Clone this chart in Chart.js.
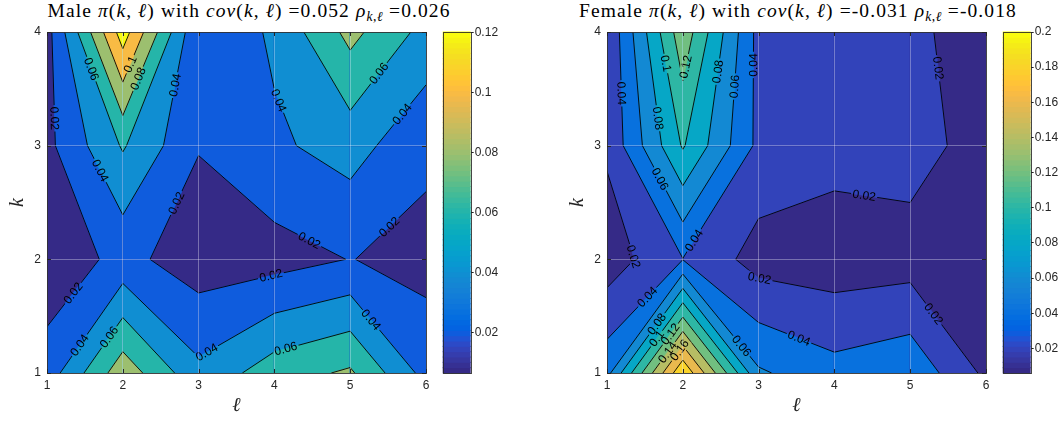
<!DOCTYPE html>
<html>
<head>
<meta charset="utf-8">
<script src="https://cdn.jsdelivr.net/npm/chart.js@4.4.0/dist/chart.umd.min.js"></script>
<style>
  body { margin: 0; background: #fff; width: 1061px; height: 421px; overflow: hidden; position: relative; }
  canvas { position: absolute; top: 0; }
  .ttl { position: absolute; top: 0; font-family: 'Liberation Serif', 'DejaVu Serif', serif; font-size: 19.5px;
         letter-spacing: 1.1px; color: #000; white-space: nowrap; transform: translateX(-50%); }
  .ttl sub { font-size: 70%; vertical-align: -0.3em; line-height: 0; letter-spacing: 0.5px; }
</style>
</head>
<body>
<div class="ttl" style="left:249px">Male <i>π</i>(<i>k</i>, <i>ℓ</i>) with <i>cov</i>(<i>k</i>, <i>ℓ</i>) =0.052 <i>ρ</i><sub><i>k</i>,<i>ℓ</i></sub> =0.026</div>
<div class="ttl" style="left:798px">Female <i>π</i>(<i>k</i>, <i>ℓ</i>) with <i>cov</i>(<i>k</i>, <i>ℓ</i>) =-0.031 <i>ρ</i><sub><i>k</i>,<i>ℓ</i></sub> =-0.018</div>
<canvas id="male" width="440" height="421" style="left:0"></canvas>
<canvas id="maleBar" width="100" height="421" style="left:436px"></canvas>
<canvas id="female" width="440" height="421" style="left:560px"></canvas>
<canvas id="femaleBar" width="65" height="421" style="left:996px"></canvas>
<script>
'use strict';

const ell = [1, 2, 3, 4, 5, 6];
const kVals = [1, 2, 3, 4];

// pi(k, l), one array per k, values along l = 1..6
const maleK1 = [0.029, 0.0925, 0.045, 0.071, 0.083, 0.033];
const maleK2 = [0.0069, 0.0259, 0.0095, 0.012, 0.0205, 0.0134];
const maleK3 = [0.0148, 0.062, 0.021, 0.0366, 0.0483, 0.0245];
const maleK4 = [0.0125, 0.13, 0.021, 0.0435, 0.086, 0.0535];

const femaleK1 = [0.053, 0.198, 0.0627, 0.047, 0.055, 0.0158];
const femaleK2 = [0.009, 0.0395, 0.0116, 0.0088, 0.011, 0.007];
const femaleK3 = [0.0232, 0.102, 0.035, 0.0274, 0.029, 0.0106];
const femaleK4 = [0.0218, 0.1335, 0.0334, 0.028, 0.025, 0.009];

const maleLevels = [0.02, 0.04, 0.06, 0.08, 0.1, 0.12];
const femaleLevels = [0.02, 0.04, 0.06, 0.08, 0.1, 0.12, 0.14, 0.16, 0.18, 0.2];

const maleColorTicks = [0.02, 0.04, 0.06, 0.08, 0.1, 0.12];
const femaleColorTicks = [0.02, 0.04, 0.06, 0.08, 0.1, 0.12, 0.14, 0.16, 0.18, 0.2];
const maleCLim = [0.0066, 0.1203];
const femaleCLim = [0.006, 0.2];

// where the inline contour labels sit: [level, l, k]
const maleLabelSpots = [
  [0.06, 1.57, 3.67], [0.1, 2.12, 3.71], [0.08, 2.2, 3.59], [0.04, 2.71, 3.53],
  [0.04, 4.03, 3.39], [0.06, 5.37, 3.64], [0.04, 5.7, 3.27], [0.02, 1.08, 3.24],
  [0.04, 1.7, 2.78], [0.02, 2.69, 2.5], [0.02, 4.45, 2.15], [0.02, 5.55, 2.26],
  [0.02, 3.96, 1.84], [0.02, 1.35, 1.7], [0.04, 1.44, 1.24], [0.06, 1.81, 1.32],
  [0.04, 3.11, 1.18], [0.06, 4.16, 1.19], [0.04, 5.26, 1.46]
];
const femaleLabelSpots = [
  [0.04, 1.15, 3.46], [0.1, 1.75, 3.72], [0.12, 2.06, 3.69], [0.08, 2.48, 3.65],
  [0.06, 2.69, 3.52], [0.04, 2.96, 3.71], [0.02, 5.35, 3.68], [0.08, 1.66, 3.24],
  [0.06, 1.68, 2.7], [0.02, 4.39, 2.55], [0.04, 2.14, 2.17], [0.02, 1.33, 2.02],
  [0.02, 3.02, 1.86], [0.04, 1.53, 1.67], [0.02, 5.29, 1.51], [0.04, 3.53, 1.3],
  [0.06, 2.76, 1.23], [0.08, 1.66, 1.43], [0.1, 1.62, 1.32], [0.12, 1.86, 1.33],
  [0.14, 1.72, 1.22], [0.16, 2.0, 1.18]
];

// parula, 64 steps
const parula = [
  [0.2081,0.1663,0.5292],[0.2116,0.1898,0.5777],[0.2123,0.2138,0.6270],[0.2081,0.2386,0.6771],
  [0.1959,0.2645,0.7279],[0.1707,0.2919,0.7792],[0.1253,0.3242,0.8303],[0.0591,0.3598,0.8683],
  [0.0117,0.3875,0.8820],[0.0060,0.4086,0.8828],[0.0165,0.4266,0.8786],[0.0329,0.4430,0.8720],
  [0.0498,0.4586,0.8641],[0.0629,0.4737,0.8554],[0.0723,0.4887,0.8467],[0.0779,0.5040,0.8384],
  [0.0793,0.5200,0.8312],[0.0749,0.5375,0.8263],[0.0641,0.5570,0.8240],[0.0488,0.5772,0.8228],
  [0.0343,0.5966,0.8199],[0.0265,0.6137,0.8135],[0.0239,0.6287,0.8038],[0.0231,0.6418,0.7913],
  [0.0228,0.6535,0.7768],[0.0267,0.6642,0.7607],[0.0384,0.6743,0.7436],[0.0590,0.6838,0.7254],
  [0.0843,0.6928,0.7062],[0.1133,0.7015,0.6859],[0.1453,0.7098,0.6646],[0.1801,0.7177,0.6424],
  [0.2178,0.7250,0.6193],[0.2586,0.7317,0.5954],[0.3022,0.7376,0.5712],[0.3482,0.7424,0.5473],
  [0.3953,0.7459,0.5244],[0.4420,0.7481,0.5033],[0.4871,0.7491,0.4840],[0.5300,0.7491,0.4661],
  [0.5709,0.7485,0.4494],[0.6099,0.7473,0.4337],[0.6473,0.7456,0.4188],[0.6834,0.7435,0.4044],
  [0.7184,0.7411,0.3905],[0.7525,0.7384,0.3768],[0.7858,0.7356,0.3633],[0.8185,0.7327,0.3498],
  [0.8507,0.7299,0.3360],[0.8824,0.7274,0.3217],[0.9139,0.7258,0.3063],[0.9450,0.7261,0.2886],
  [0.9739,0.7314,0.2666],[0.9938,0.7455,0.2403],[0.9990,0.7653,0.2164],[0.9955,0.7861,0.1967],
  [0.9880,0.8066,0.1794],[0.9789,0.8271,0.1633],[0.9697,0.8481,0.1475],[0.9626,0.8705,0.1309],
  [0.9589,0.8949,0.1132],[0.9598,0.9218,0.0948],[0.9661,0.9514,0.0755],[0.9763,0.9831,0.0538]
];

const axisColour = '#262626';
const tickFont = { family: "'Liberation Sans', Arial, sans-serif", size: 12 };

function rgb(c) {
  return `rgb(${Math.round(c[0] * 255)}, ${Math.round(c[1] * 255)}, ${Math.round(c[2] * 255)})`;
}

function colourFor(v, clim) {
  const t = (v - clim[0]) / (clim[1] - clim[0]);
  const idx = Math.min(63, Math.max(0, Math.floor(t * 64)));
  return rgb(parula[idx]);
}

function fmt(v) {
  return String(+v.toFixed(3));
}

function crossing(a, b, level) {
  const t = (level - a.v) / (b.v - a.v);
  return { x: a.x + t * (b.x - a.x), y: a.y + t * (b.y - a.y) };
}

// part of a grid cell at or above the level (marching squares)
function cellPolys(c, level) {
  const above = c.map(p => p.v >= level);
  const n = above.filter(Boolean).length;
  if (n === 0) return [];
  const centre = (c[0].v + c[1].v + c[2].v + c[3].v) / 4;
  if (n === 2 && above[0] === above[2] && centre < level) {
    const polys = [];
    for (let i = 0; i < 4; i++) {
      if (!above[i]) continue;
      const prev = c[(i + 3) % 4], next = c[(i + 1) % 4];
      polys.push([crossing(prev, c[i], level), c[i], crossing(c[i], next, level)]);
    }
    return polys;
  }
  const poly = [];
  for (let i = 0; i < 4; i++) {
    const a = c[i], b = c[(i + 1) % 4];
    if (above[i]) poly.push(a);
    if (above[i] !== above[(i + 1) % 4]) poly.push(crossing(a, b, level));
  }
  return [poly];
}

function cellSegments(c, level) {
  const above = c.map(p => p.v >= level);
  const onEdge = [];
  for (let i = 0; i < 4; i++) {
    if (above[i] !== above[(i + 1) % 4]) onEdge[i] = crossing(c[i], c[(i + 1) % 4], level);
  }
  const pts = onEdge.filter(Boolean);
  if (pts.length === 2) return [[pts[0], pts[1]]];
  if (pts.length === 4) {
    const centre = (c[0].v + c[1].v + c[2].v + c[3].v) / 4;
    const cutAbove = centre < level;
    const segs = [];
    for (let i = 0; i < 4; i++) {
      if (above[i] === cutAbove) segs.push([onEdge[(i + 3) % 4], onEdge[i]]);
    }
    return segs;
  }
  return [];
}

function fillPoly(ctx, poly, colour) {
  ctx.beginPath();
  poly.forEach((p, i) => (i ? ctx.lineTo(p.x, p.y) : ctx.moveTo(p.x, p.y)));
  ctx.closePath();
  ctx.fillStyle = colour;
  ctx.strokeStyle = colour;
  ctx.fill();
  ctx.stroke();
}

function makeContourPlugin(rows, levels, clim, spots) {
  return {
    id: 'contour',
    beforeDatasetsDraw(chart) {
      const { ctx, chartArea: area, scales: { x, y } } = chart;
      const cells = [];
      for (let j = 0; j < kVals.length - 1; j++) {
        for (let i = 0; i < ell.length - 1; i++) {
          const pt = (a, b) => ({ x: x.getPixelForValue(ell[a]), y: y.getPixelForValue(kVals[b]), v: rows[b][a] });
          cells.push([pt(i, j), pt(i + 1, j), pt(i + 1, j + 1), pt(i, j + 1)]);
        }
      }
      ctx.save();
      ctx.beginPath();
      ctx.rect(area.left, area.top, area.width, area.height);
      ctx.clip();
      ctx.lineWidth = 0.8;
      ctx.lineJoin = 'round';

      // filled bands
      cells.forEach(c => {
        fillPoly(ctx, c, colourFor(clim[0], clim));
        levels.forEach(level => {
          cellPolys(c, level).forEach(poly => fillPoly(ctx, poly, colourFor(level, clim)));
        });
      });

      // contour lines
      const segsByLevel = new Map();
      levels.forEach(level => {
        const segs = [];
        cells.forEach(c => segs.push(...cellSegments(c, level)));
        segsByLevel.set(level, segs);
      });

      // labels on the lines
      ctx.font = "12px 'Liberation Sans', Arial, sans-serif";
      const labels = spots.map(([level, l, k]) => {
        const px = x.getPixelForValue(l), py = y.getPixelForValue(k);
        let best = null, bestD = Infinity;
        (segsByLevel.get(level) || []).forEach(([a, b]) => {
          const dx = b.x - a.x, dy = b.y - a.y;
          const len2 = dx * dx + dy * dy || 1;
          const t = Math.max(0, Math.min(1, ((px - a.x) * dx + (py - a.y) * dy) / len2));
          const qx = a.x + t * dx, qy = a.y + t * dy;
          const d = (qx - px) ** 2 + (qy - py) ** 2;
          if (d < bestD) { bestD = d; best = { x: qx, y: qy, ang: Math.atan2(dy, dx) }; }
        });
        if (!best) return null;
        let ang = best.ang;
        if (ang > Math.PI / 2) ang -= Math.PI;
        if (ang < -Math.PI / 2) ang += Math.PI;
        const text = fmt(level);
        return { x: best.x, y: best.y, ang, text, w: ctx.measureText(text).width + 3, h: 11 };
      }).filter(Boolean);

      ctx.save();
      ctx.beginPath();
      ctx.rect(area.left, area.top, area.width, area.height);
      labels.forEach(lb => {
        const cos = Math.cos(lb.ang), sin = Math.sin(lb.ang);
        const corners = [[-lb.w / 2, -lb.h / 2], [lb.w / 2, -lb.h / 2], [lb.w / 2, lb.h / 2], [-lb.w / 2, lb.h / 2]];
        corners.forEach(([u, v], i) => {
          const X = lb.x + u * cos - v * sin, Y = lb.y + u * sin + v * cos;
          if (i) ctx.lineTo(X, Y); else ctx.moveTo(X, Y);
        });
        ctx.closePath();
      });
      ctx.clip('evenodd');
      ctx.strokeStyle = '#000';
      ctx.lineWidth = 0.9;
      segsByLevel.forEach(segs => {
        ctx.beginPath();
        segs.forEach(([a, b]) => { ctx.moveTo(a.x, a.y); ctx.lineTo(b.x, b.y); });
        ctx.stroke();
      });
      ctx.restore();

      ctx.fillStyle = '#000';
      ctx.textAlign = 'center';
      ctx.textBaseline = 'middle';
      labels.forEach(lb => {
        ctx.save();
        ctx.translate(lb.x, lb.y);
        ctx.rotate(lb.ang);
        ctx.fillText(lb.text, 0, 0.5);
        ctx.restore();
      });
      ctx.restore();
    },
    afterDraw(chart) {
      const { ctx, chartArea: area, scales: { x, y } } = chart;
      ctx.save();
      ctx.strokeStyle = axisColour;
      ctx.lineWidth = 1;
      ctx.beginPath();
      ell.forEach(v => {
        const px = Math.round(x.getPixelForValue(v)) + 0.5;
        ctx.moveTo(px, area.bottom); ctx.lineTo(px, area.bottom - 4);
        ctx.moveTo(px, area.top); ctx.lineTo(px, area.top + 4);
      });
      kVals.forEach(v => {
        const py = Math.round(y.getPixelForValue(v)) + 0.5;
        ctx.moveTo(area.left, py); ctx.lineTo(area.left + 4, py);
        ctx.moveTo(area.right, py); ctx.lineTo(area.right - 4, py);
      });
      ctx.stroke();
      ctx.strokeStyle = 'rgba(38,38,38,0.85)';
      ctx.strokeRect(Math.round(area.left) + 0.5, Math.round(area.top) + 0.5,
        Math.round(area.width), Math.round(area.height));
      ctx.restore();
    }
  };
}

function makeColourbarPlugin(clim) {
  return {
    id: 'colourbar',
    beforeDatasetsDraw(chart) {
      const { ctx, chartArea: area, scales: { y } } = chart;
      const step = (clim[1] - clim[0]) / 64;
      ctx.save();
      for (let n = 0; n < 64; n++) {
        const top = y.getPixelForValue(clim[0] + (n + 1) * step);
        const bottom = y.getPixelForValue(clim[0] + n * step);
        ctx.fillStyle = rgb(parula[n]);
        ctx.fillRect(area.left, top - 0.5, area.width, bottom - top + 1);
      }
      ctx.restore();
    },
    afterDraw(chart) {
      const { ctx, chartArea: area } = chart;
      ctx.save();
      ctx.strokeStyle = 'rgba(38,38,38,0.85)';
      ctx.lineWidth = 1;
      ctx.strokeRect(Math.round(area.left) + 0.5, Math.round(area.top) + 0.5,
        Math.round(area.width), Math.round(area.height));
      ctx.restore();
    }
  };
}

function buildNodes(rows) {
  const nodes = [];
  rows.forEach((row, j) => row.forEach((v, i) => nodes.push({ x: ell[i], y: kVals[j], v: v })));
  return nodes;
}

function renderContour(canvasId, rows, levels, clim, spots) {
  const gridLine = { color: 'rgba(255,255,255,0.32)', lineWidth: 1, drawTicks: false, z: 1 };
  const config = {
    type: 'scatter',
    data: { datasets: [{ data: buildNodes(rows), pointRadius: 0, showLine: false }] },
    options: {
      responsive: false,
      animation: false,
      events: [],
      layout: { padding: { top: 32, right: 14, left: 0, bottom: 0 } },
      plugins: { legend: { display: false }, tooltip: { enabled: false } },
      scales: {
        x: {
          type: 'linear', min: ell[0], max: ell[ell.length - 1],
          afterBuildTicks: s => { s.ticks = ell.map(v => ({ value: v })); },
          afterFit: s => { s.height = 48; },
          grid: gridLine,
          border: { display: false },
          ticks: { color: axisColour, font: tickFont, padding: 5, maxRotation: 0, autoSkip: false },
          title: {
            display: true, text: 'ℓ', color: axisColour, padding: { top: 0, bottom: 3 },
            font: { family: "'Liberation Serif', 'DejaVu Serif', serif", size: 20, style: 'italic' }
          }
        },
        y: {
          type: 'linear', min: kVals[0], max: kVals[kVals.length - 1],
          afterBuildTicks: s => { s.ticks = kVals.map(v => ({ value: v })); },
          afterFit: s => { s.width = 47; },
          grid: gridLine,
          border: { display: false },
          ticks: { color: axisColour, font: tickFont, padding: 6, autoSkip: false },
          title: {
            display: true, text: 'k', color: axisColour, padding: { top: 6, bottom: 0 },
            font: { family: "'Liberation Serif', 'DejaVu Serif', serif", size: 20, style: 'italic' }
          }
        }
      }
    },
    plugins: [makeContourPlugin(rows, levels, clim, spots)]
  };
  new Chart(document.getElementById(canvasId), config);
}

function renderColourbar(canvasId, clim, ticks, axisWidth) {
  const config = {
    type: 'scatter',
    data: { datasets: [{ data: [], pointRadius: 0 }] },
    options: {
      responsive: false,
      animation: false,
      events: [],
      layout: { padding: { top: 32, left: 6.7, right: 0, bottom: 48 } },
      plugins: { legend: { display: false }, tooltip: { enabled: false } },
      scales: {
        x: { type: 'linear', min: 0, max: 1, display: false },
        y: {
          type: 'linear', position: 'right', min: clim[0], max: clim[1],
          afterBuildTicks: s => { s.ticks = ticks.map(v => ({ value: v })); },
          afterFit: s => { s.width = axisWidth; },
          grid: { drawOnChartArea: false, drawTicks: true, tickLength: 3, color: axisColour },
          border: { display: false },
          ticks: { color: axisColour, font: tickFont, padding: 1, autoSkip: false, callback: v => fmt(v) }
        }
      }
    },
    plugins: [makeColourbarPlugin(clim)]
  };
  new Chart(document.getElementById(canvasId), config);
}

renderContour('male', [maleK1, maleK2, maleK3, maleK4], maleLevels, maleCLim, maleLabelSpots);
renderColourbar('maleBar', maleCLim, maleColorTicks, 100 - 6.7 - 28);
renderContour('female', [femaleK1, femaleK2, femaleK3, femaleK4], femaleLevels, femaleCLim, femaleLabelSpots);
renderColourbar('femaleBar', femaleCLim, femaleColorTicks, 65 - 6.7 - 28);
</script>
</body>
</html>
